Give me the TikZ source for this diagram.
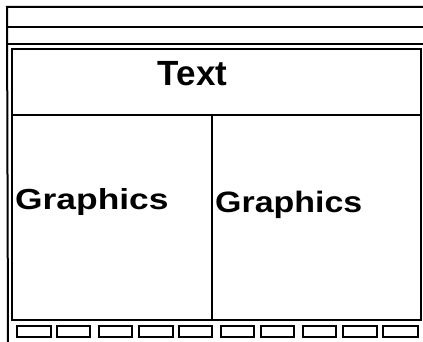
\documentclass[tikz,border=0pt]{standalone}
\usepackage{graphicx}
\usepackage{fontspec}
\setmainfont{Liberation Sans}
\begin{document}
\begin{tikzpicture}[x=1pt,y=-1pt,
  frame/.style={draw=black,line width=2pt},
  slot/.style={draw=black,line width=2pt,rectangle,inner sep=0pt,minimum height=11pt,anchor=north west},
  label/.style={inner sep=0pt,font=\bfseries}]
\useasboundingbox (0,0) rectangle (423,342);
% outer lines
\coordinate (tl) at (8,7);
\coordinate (bl) at (8,342);
\draw[frame] (423,7) -- (7,7) -- (bl);
\draw[frame] (8,27) -- (423,27);
\draw[frame] (8,44) -- (423,44);
% inner panel
\draw[frame] (12,49) rectangle (420.5,320);
\draw[frame] (12,115) -- (420.5,115);
\draw[frame] (212,115) -- (212,320);
% texts
\node[label,anchor=base,font=\bfseries\fontsize{35}{35}\selectfont] (text) at (192.5,86) {Text};
\node[label,anchor=base west,font=\bfseries\fontsize{29}{29}\selectfont] (g1) at (15,209) {\scalebox{1.22}[1]{Graphics}};
\node[label,anchor=base west,font=\bfseries\fontsize{29.5}{29.5}\selectfont] (g2) at (215,212) {\scalebox{1.15}[1]{Graphics}};
% bottom slots
\foreach \a/\b [count=\i] in {16/50,56/89,98/131,138/172,178/211,220/253,260/293,302/335,342/376,382/417}{
  \pgfmathsetmacro{\w}{\b-\a}
  \node[slot,minimum width=\w pt] (s\i) at (\a,325) {};
}
\end{tikzpicture}
\end{document}
